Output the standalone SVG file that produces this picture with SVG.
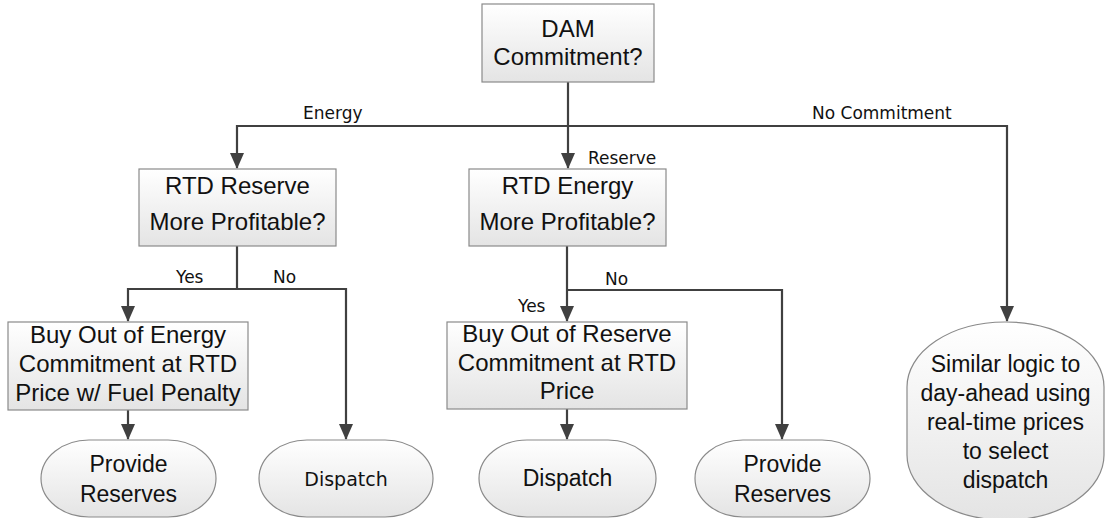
<svg xmlns="http://www.w3.org/2000/svg" width="1106" height="518" viewBox="0 0 1106 518">
<defs>
<linearGradient id="gb" x1="0" y1="0" x2="0" y2="1">
<stop offset="0" stop-color="#ffffff"/>
<stop offset="1" stop-color="#e4e4e4"/>
</linearGradient>
<marker id="ah" markerUnits="userSpaceOnUse" markerWidth="16" markerHeight="16" viewBox="0 0 16 16" refX="15" refY="8" orient="auto">
<path d="M0,1 L16,8 L0,15 Z" fill="#404040"/>
</marker>
<style>
.box{fill:url(#gb);stroke:#8a8a8a;stroke-width:1.2}
.t{font-family:"Liberation Sans",Arial,sans-serif;font-size:24px;fill:#111;text-anchor:middle}
.to{font-family:"Liberation Sans",Arial,sans-serif;font-size:23px;fill:#111;text-anchor:middle}
.tv{font-family:"DejaVu Sans",Verdana,sans-serif;font-size:19px;fill:#111;text-anchor:middle}
.lb{font-family:"DejaVu Sans",Verdana,sans-serif;font-size:17px;fill:#111}
.c{fill:none;stroke:#404040;stroke-width:2.2}
.ca{fill:none;stroke:#404040;stroke-width:2.2;marker-end:url(#ah)}
</style>
</defs>
<rect width="1106" height="518" fill="#ffffff"/>

<g id="connectors">
<path class="ca" d="M568,82 V168"/>
<path class="ca" d="M568,126 H237 V168"/>
<path class="ca" d="M568,126 H1007 V321"/>
<path class="c" d="M237,246 V289"/>
<path class="ca" d="M237,289 H128 V321"/>
<path class="ca" d="M237,289 H346 V439"/>
<path class="ca" d="M128,410 V439"/>
<path class="ca" d="M567,246 V321"/>
<path class="ca" d="M567,290 H782 V439"/>
<path class="ca" d="M567,409 V439"/>
<text class="lb" x="303" y="119">Energy</text>
<text class="lb" x="588" y="164">Reserve</text>
<text class="lb" x="812" y="119">No Commitment</text>
<text class="lb" x="176" y="283">Yes</text>
<text class="lb" x="273" y="283">No</text>
<text class="lb" x="605" y="285">No</text>
<text class="lb" x="518" y="312">Yes</text>
</g>

<g id="dam">
<rect class="box" x="482" y="4" width="172" height="78"/>
<text class="t" x="568" y="37">DAM</text>
<text class="t" x="568" y="65">Commitment?</text>
</g>

<g id="rtd-reserve">
<rect class="box" x="139" y="169" width="197" height="77"/>
<text class="t" x="237.5" y="194">RTD Reserve</text>
<text class="t" x="237.5" y="230">More Profitable?</text>
</g>

<g id="rtd-energy">
<rect class="box" x="469" y="169" width="197" height="77"/>
<text class="t" x="567.5" y="194">RTD Energy</text>
<text class="t" x="567.5" y="230">More Profitable?</text>
</g>

<g id="buyout-energy">
<rect class="box" x="8" y="322" width="240" height="88"/>
<text class="t" x="128" y="343">Buy Out of Energy</text>
<text class="t" x="128" y="372">Commitment at RTD</text>
<text class="t" x="128" y="401">Price w/ Fuel Penalty</text>
</g>

<g id="buyout-reserve">
<rect class="box" x="447" y="322" width="240" height="87"/>
<text class="t" x="567" y="342">Buy Out of Reserve</text>
<text class="t" x="567" y="371">Commitment at RTD</text>
<text class="t" x="567" y="399">Price</text>
</g>

<g id="provide-reserves-1">
<rect class="box" x="41" y="440" width="175" height="77" rx="48" ry="38.5"/>
<text class="to" x="128.5" y="472">Provide</text>
<text class="to" x="128.5" y="502">Reserves</text>
</g>

<g id="dispatch-1">
<rect class="box" x="259" y="440" width="174" height="77" rx="48" ry="38.5"/>
<text class="tv" x="346" y="486">Dispatch</text>
</g>

<g id="dispatch-2">
<rect class="box" x="479" y="440" width="177" height="77" rx="48" ry="38.5"/>
<text class="to" x="567.5" y="486">Dispatch</text>
</g>

<g id="provide-reserves-2">
<rect class="box" x="695" y="440" width="175" height="77" rx="48" ry="38.5"/>
<text class="to" x="782.5" y="472">Provide</text>
<text class="to" x="782.5" y="502">Reserves</text>
</g>

<g id="similar-logic">
<rect class="box" x="907" y="322" width="197" height="198" rx="98" ry="65"/>
<text class="to" x="1005.5" y="372">Similar logic to</text>
<text class="to" x="1005.5" y="401">day-ahead using</text>
<text class="to" x="1005.5" y="430">real-time prices</text>
<text class="to" x="1005.5" y="459">to select</text>
<text class="to" x="1005.5" y="488">dispatch</text>
</g>
</svg>
